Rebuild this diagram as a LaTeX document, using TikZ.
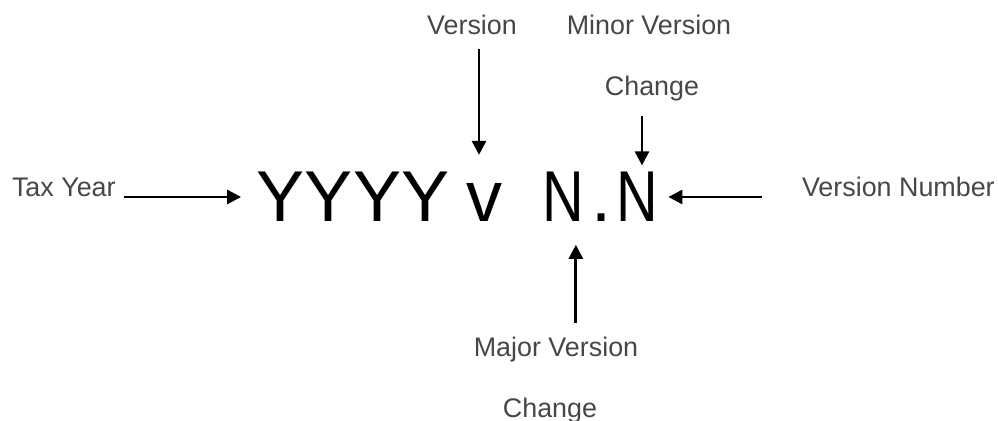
\documentclass[tikz,border=0pt]{standalone}
\usepackage{fontspec}
\setmainfont{Liberation Sans}
\usetikzlibrary{arrows.meta,calc}
\tikzset{
  lbl/.style={text=black!72, font=\fontsize{15.3}{18}\selectfont, inner sep=0pt, outer sep=0pt},
  big/.style={font=\fontsize{41}{49}\selectfont, inner sep=0pt, outer sep=0pt, anchor=base},
  arr/.style={-{Triangle[length=8pt,width=8pt]}, line width=1.6pt, shorten <=8pt},
}
\newcommand\narrowN{\scalebox{0.8}[1]{N}}
\begin{document}
\begin{tikzpicture}[x=0.02cm,y=-0.02cm]
\useasboundingbox (0,0) rectangle (998,421);

% the version string
\node[big] (yyyy) at (353,222) {YYYY};
\node[big] (vv)   at (485,222) {v};
\node[big] (nmaj) at (563,222) {\narrowN};
\node[big] (ndot) at (602,222) {.};
\node[big] (nmin) at (637,222) {\narrowN};

% labels
\node[lbl, anchor=base west] (tax)  at (12,197)  {Tax Year};
\node[lbl, anchor=base]      (ver)  at (472,35)  {Version};
\node[lbl, anchor=base]      (minv) at (649,35)  {Minor Version};
\node[lbl, anchor=base]      (chgmin) at (652,96) {Change};
\node[lbl, anchor=base west] (vnum) at (802,197) {Version Number};
\node[lbl, anchor=base]      (majv) at (556,357) {Major Version};
\node[lbl, anchor=base]      (chgmaj) at (550,418) {Change};

% arrows
\draw[arr, shorten >=9pt] ([xshift=-3pt]tax.base east) -- (tax.base east -| yyyy.west);
\draw[arr, shorten >=10pt] ([xshift=4pt]ver.south) -- ([xshift=4pt]ver.south |- yyyy.north);
\draw[arr, shorten >=4pt] ([xshift=-5.7pt]chgmin.south) -- ([xshift=-5.7pt]chgmin.south |- nmin.north);
\draw[arr] ([xshift=-15pt]vnum.base west) -- ($(vnum.base west -| nmin.east)+(6pt,0)$);
\draw[arr, shorten >=13pt] ([xshift=11.3pt]majv.north) -- ([xshift=11.3pt]majv.north |- nmaj.south);
\end{tikzpicture}
\end{document}
